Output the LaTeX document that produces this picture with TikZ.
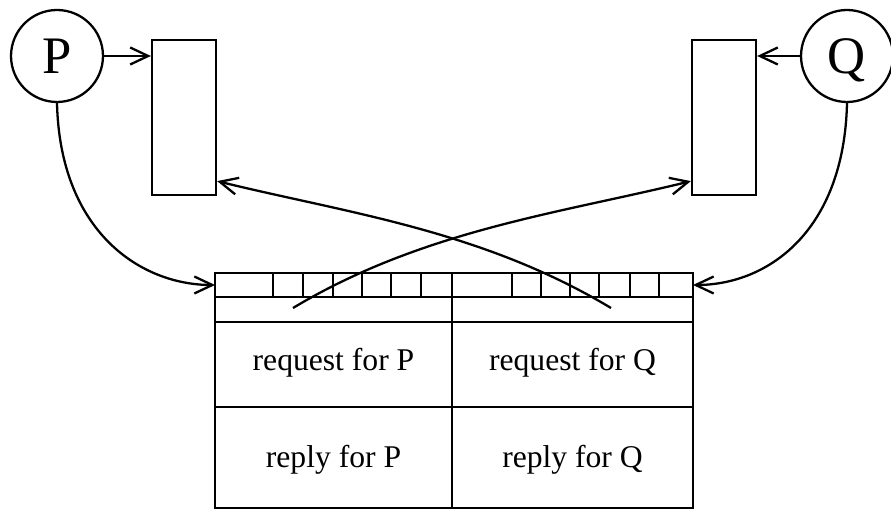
\documentclass[tikz,border=0pt]{standalone}
\usepackage{fontspec}
\setmainfont{Liberation Serif}
\usetikzlibrary{arrows.meta,calc}
\begin{document}
\begin{tikzpicture}[x=0.02cm,y=-0.02cm,
  every path/.style={line width=1.3pt},
  arr/.style={-{Straight Barb[length=3.6mm,width=3.4mm,line width=1.3pt]}},
  proc/.style={draw,circle,minimum size=1.84cm,inner sep=0pt,text height=19.8pt,text depth=0pt,font=\fontsize{30}{30}\selectfont},
  buf/.style={draw,rectangle,minimum width=1.28cm,minimum height=3.1cm,inner sep=0pt},
  lbl/.style={anchor=base,font=\fontsize{18}{18}\selectfont,inner sep=0pt}]
\useasboundingbox (0,0) rectangle (891,509);
% processes and buffers
\node[proc] (P) at (57,56) {P};
\node[proc] (Q) at (847,56) {Q};
\node[buf] (rp) at (184,117.5) {};
\node[buf] (rq) at (724,117.5) {};
% table
\draw (215,273) rectangle (693,508);
\draw (215,297) -- (693,297);
\draw (215,322) -- (693,322);
\draw (215,407) -- (693,407);
\draw (452,273) -- (452,508);
\foreach \x in {273,303,333,362,391,421,512,541,570,599,630,659}
  \draw (\x,273) -- (\x,297);
\coordinate (qleft) at (215,285);
\coordinate (qright) at (693,285);
\coordinate (sp) at (293,308);
\coordinate (sq) at (611,308);
\node[lbl] (reqp) at (333.5,370) {request for P};
\node[lbl] (reqq) at (572.5,370) {request for Q};
\node[lbl] (repp) at (333.5,467) {reply for P};
\node[lbl] (repq) at (572.5,467) {reply for Q};
% connectors
\draw[arr] (P.east) -- (P.east -| rp.west);
\draw[arr] (Q.west) -- (Q.west -| rq.east);
\draw[arr] (P.south) .. controls +(3,128) and +(-75,0) .. (qleft);
\draw[arr] (Q.south) .. controls +(-3,128) and +(75,0) .. (qright);
\draw[arr] (sp) .. controls +(130,-78) and +(-130,32) .. ([yshift=0.3cm]rq.south west);
\draw[arr] (sq) .. controls +(-130,-78) and +(130,32) .. ([yshift=0.3cm]rp.south east);
\end{tikzpicture}
\end{document}
